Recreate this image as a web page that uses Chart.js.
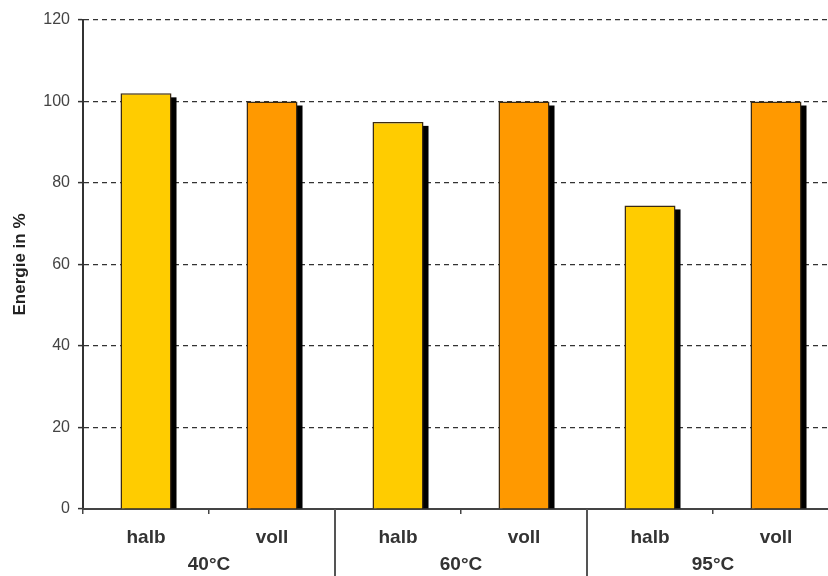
<!DOCTYPE html>
<html>
<head>
<meta charset="utf-8">
<script src="https://cdn.jsdelivr.net/npm/chart.js@4"></script>
<style>
  html, body { margin: 0; padding: 0; background: #fff; overflow: hidden; }
  canvas { display: block; }
</style>
</head>
<body>
<canvas id="energie" width="840" height="576"></canvas>
<script>
// Beladung pro Waschtemperatur
const subLabels = ['halb', 'voll', 'halb', 'voll', 'halb', 'voll'];
const groups = ['40°C', '60°C', '95°C'];
const energie = [102, 100, 95, 100, 74.5, 100];
const yTicks = [0, 20, 40, 60, 80, 100, 120];

const FONT = "'Liberation Sans', Arial, sans-serif";
const farbeHalb = '#FFCC00';
const farbeVoll = '#FF9900';

// schwarzer Schlagschatten rechts/unten hinter jedem Balken
const barShadow = {
    id: 'barShadow',
    beforeDatasetsDraw(chart) {
        const ctx = chart.ctx;
        const meta = chart.getDatasetMeta(0);
        ctx.save();
        ctx.fillStyle = '#000';
        meta.data.forEach(bar => {
            const { x, y, base, width } = bar.getProps(['x', 'y', 'base', 'width'], true);
            ctx.fillRect(x - width / 2 + 4, y + 4, width + 1, base - y - 4);
        });
        ctx.restore();
    }
};

// Trennlinien zwischen den Temperaturgruppen unter der Achse
const groupLines = {
    id: 'groupLines',
    afterDraw(chart) {
        const xs = chart.scales.x;
        const per = subLabels.length / groups.length;
        const ctx = chart.ctx;
        ctx.save();
        ctx.strokeStyle = '#555';
        ctx.lineWidth = 2;
        for (let g = 1; g < groups.length; g++) {
            const px = Math.round((xs.getPixelForValue(g * per - 1) + xs.getPixelForValue(g * per)) / 2);
            ctx.beginPath();
            ctx.moveTo(px, chart.chartArea.bottom);
            ctx.lineTo(px, chart.height);
            ctx.stroke();
        }
        ctx.restore();
    }
};

new Chart(document.getElementById('energie'), {
    type: 'bar',
    data: {
        labels: subLabels,
        datasets: [{
            label: 'Energie',
            data: energie,
            backgroundColor: c => subLabels[c.dataIndex] === 'halb' ? farbeHalb : farbeVoll,
            borderColor: '#3a2a12',
            borderWidth: 1.5,
            borderSkipped: 'bottom',
            categoryPercentage: 1,
            barPercentage: 0.405
        }]
    },
    options: {
        responsive: false,
        animation: false,
        layout: { padding: { top: 20, right: 1, left: 0, bottom: 0 } },
        plugins: {
            legend: { display: false },
            tooltip: { enabled: false }
        },
        scales: {
            y: {
                min: 0,
                max: 120,
                afterBuildTicks: s => { s.ticks = yTicks.map(v => ({ value: v })); },
                afterFit: s => { s.width = 83; },
                grid: {
                    color: '#333',
                    lineWidth: 1.2,
                    tickLength: 5,
                    tickColor: '#333',
                    tickWidth: 1.5
                },
                border: { color: '#333', width: 2, dash: [5, 4] },
                ticks: {
                    color: '#444',
                    padding: 8,
                    font: { family: FONT, size: 16 }
                },
                title: {
                    display: true,
                    text: 'Energie in %',
                    color: '#222',
                    padding: { top: 10, bottom: 0 },
                    font: { family: FONT, size: 17, weight: 'bold' }
                }
            },
            x: {
                z: 1,
                afterFit: s => { s.height = 38; },
                grid: {
                    drawOnChartArea: false,
                    offset: true,
                    tickLength: 5,
                    color: '#444',
                    lineWidth: 1.5
                },
                border: { color: '#444', width: 2 },
                ticks: {
                    color: '#333',
                    padding: 12,
                    maxRotation: 0,
                    font: { family: FONT, size: 19, weight: 'bold' }
                }
            },
            gruppe: {
                type: 'category',
                labels: groups,
                position: 'bottom',
                afterFit: s => { s.height = 29; },
                grid: { display: false, drawTicks: false },
                border: { display: false },
                ticks: {
                    color: '#333',
                    padding: 6,
                    maxRotation: 0,
                    font: { family: FONT, size: 19, weight: 'bold' }
                }
            }
        }
    },
    plugins: [barShadow, groupLines]
});
</script>
</body>
</html>
